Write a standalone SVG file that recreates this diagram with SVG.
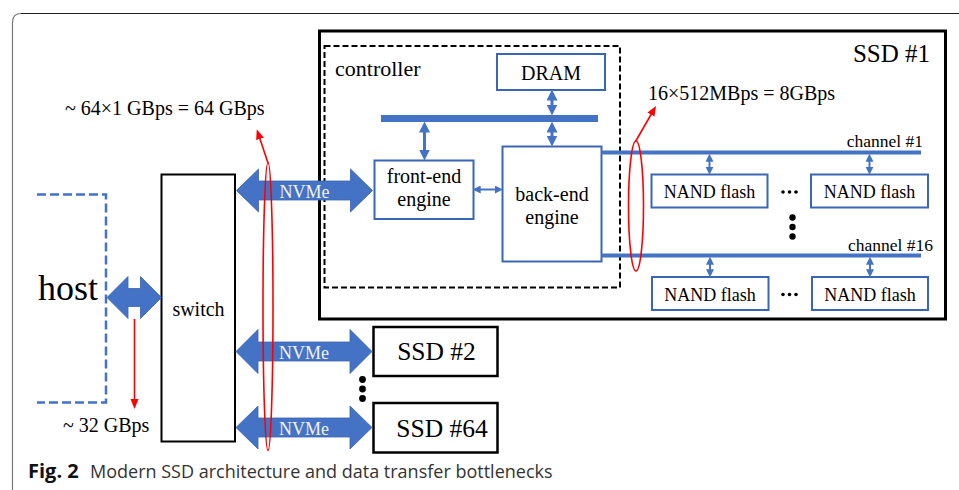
<svg xmlns="http://www.w3.org/2000/svg" width="959" height="490" viewBox="0 0 959 490">
  <style>
    .t { font-family: "Liberation Serif", "Times New Roman", serif; fill: #000; }
    .blue-box { fill: #fff; stroke: #3B66B5; stroke-width: 2; }
    .black-box { fill: #fff; stroke: #000; }
    .fat { fill: #4472C4; stroke: #3A62AE; stroke-width: 0.8; }
    .link { stroke: #4472C4; fill: none; }
    .bus { stroke: #4472C4; stroke-width: 4; fill: none; }
    .red { stroke: #FF0000; stroke-width: 1.6; fill: none; }
    .nvme { font-family: "Liberation Serif", "Times New Roman", serif; font-size: 18px; fill: #F2F2F2; text-anchor: middle; }
    .cap { font-family: "Open Sans", "Noto Sans", sans-serif; font-size: 18px; fill: #333; }
  </style>
  <defs>
    <marker id="headL" markerUnits="userSpaceOnUse" markerWidth="11" markerHeight="11" refX="5" refY="5" orient="auto-start-reverse" viewBox="0 0 10 10">
      <path d="M0,0 L10,5 L0,10 z" fill="#4472C4"/>
    </marker>
    <marker id="headS" markerUnits="userSpaceOnUse" markerWidth="8" markerHeight="8" refX="4" refY="5" orient="auto-start-reverse" viewBox="0 0 10 10">
      <path d="M0,0 L10,5 L0,10 z" fill="#4472C4"/>
    </marker>
    <marker id="headR" markerUnits="userSpaceOnUse" markerWidth="10" markerHeight="10" refX="3" refY="5" orient="auto" viewBox="0 0 10 10">
      <path d="M0,1 L10,5 L0,9 z" fill="#FF0000"/>
    </marker>
  </defs>

  <!-- figure frame -->
  <path d="M12.5,490 L12.5,22 Q12.5,13.5 21,13.5" fill="none" stroke="#777" stroke-width="1.2"/>
  <path d="M21,13.5 L959,13.5" fill="none" stroke="#222" stroke-width="1.2"/>

  <!-- host -->
  <g id="host">
    <path d="M37,194.5 L106,194.5 L106,402.5 L37,402.5" fill="none" stroke="#4472C4" stroke-width="2.5" stroke-dasharray="9 4"/>
    <text class="t" x="38" y="300" font-size="36">host</text>
  </g>

  <!-- switch -->
  <g id="switch">
    <rect class="black-box" x="161.5" y="174.5" width="73.5" height="267" stroke-width="2"/>
    <text class="t" x="198.5" y="316" font-size="20" text-anchor="middle">switch</text>
  </g>

  <!-- SSD #1 -->
  <g id="ssd1">
    <rect class="black-box" x="319.5" y="31" width="626" height="288" stroke-width="3"/>
    <text class="t" x="930" y="62" font-size="25" text-anchor="end">SSD #1</text>
  </g>

  <!-- controller -->
  <g id="controller">
    <rect x="324.5" y="46" width="295.5" height="241.5" fill="none" stroke="#000" stroke-width="2" stroke-dasharray="6 3"/>
    <text class="t" x="335" y="76" font-size="22">controller</text>
    <rect x="381" y="115" width="217" height="7" fill="#4472C4"/>
  </g>

  <g id="dram">
    <rect class="blue-box" x="497" y="54" width="108" height="36"/>
    <text class="t" x="551" y="80" font-size="20" text-anchor="middle">DRAM</text>
  </g>

  <g id="front-end">
    <rect class="blue-box" x="374.5" y="160.5" width="99" height="58.5"/>
    <text class="t" x="424" y="183" font-size="20" text-anchor="middle">front-end</text>
    <text class="t" x="424" y="206" font-size="20" text-anchor="middle">engine</text>
  </g>

  <g id="back-end">
    <rect class="blue-box" x="502.5" y="146.5" width="99" height="115"/>
    <text class="t" x="552" y="201" font-size="20" text-anchor="middle">back-end</text>
    <text class="t" x="552" y="224" font-size="20" text-anchor="middle">engine</text>
  </g>

  <!-- NAND flash arrays -->
  <g id="nand-1-1">
    <rect class="blue-box" x="651.5" y="174.5" width="116" height="33"/>
    <text class="t" x="709.5" y="197.5" font-size="18" text-anchor="middle">NAND flash</text>
  </g>
  <g id="nand-1-n">
    <rect class="blue-box" x="811" y="174.5" width="117" height="33"/>
    <text class="t" x="869.5" y="197.5" font-size="18" text-anchor="middle">NAND flash</text>
  </g>
  <g id="nand-16-1">
    <rect class="blue-box" x="652" y="277" width="116.5" height="33"/>
    <text class="t" x="710" y="300.5" font-size="18" text-anchor="middle">NAND flash</text>
  </g>
  <g id="nand-16-n">
    <rect class="blue-box" x="812" y="277" width="116" height="33"/>
    <text class="t" x="870" y="300.5" font-size="18" text-anchor="middle">NAND flash</text>
  </g>

  <!-- SSD #2 / SSD #64 -->
  <g id="ssd2">
    <rect class="black-box" x="373.5" y="327" width="124" height="49" stroke-width="2.5"/>
    <text class="t" x="436.5" y="360" font-size="25.5" text-anchor="middle">SSD #2</text>
  </g>
  <g id="ssd64">
    <rect class="black-box" x="373.5" y="403" width="124" height="49.5" stroke-width="2.5"/>
    <text class="t" x="442" y="437" font-size="25.5" text-anchor="middle">SSD #64</text>
  </g>

  <!-- connectors -->
  <g id="connectors">
    <!-- wide interface arrows -->
    <path class="fat" d="M107,297.5 L128,276.5 L128,288.5 L140.5,288.5 L140.5,276.5 L161.5,297.5 L140.5,318.5 L140.5,306.5 L128,306.5 L128,318.5 Z"/>
    <path class="fat" d="M236.5,190.5 L258.5,169 L258.5,181 L350.5,181 L350.5,169 L372.5,190.5 L350.5,212 L350.5,200 L258.5,200 L258.5,212 Z"/>
    <path class="fat" d="M236,351.5 L258,329.5 L258,342 L350,342 L350,329.5 L372,351.5 L350,373.5 L350,361 L258,361 L258,373.5 Z"/>
    <path class="fat" d="M236,427.5 L258,406 L258,418 L350,418 L350,406 L372,427.5 L350,449 L350,437 L258,437 L258,449 Z"/>
    <text class="nvme" x="304.5" y="198">NVMe</text>
    <text class="nvme" x="304" y="359">NVMe</text>
    <text class="nvme" x="304" y="435">NVMe</text>

    <!-- internal links -->
    <line class="link" x1="424.5" y1="127" x2="424.5" y2="155" stroke-width="3" marker-start="url(#headL)" marker-end="url(#headL)"/>
    <line class="link" x1="552" y1="95" x2="552" y2="110" stroke-width="3" marker-start="url(#headL)" marker-end="url(#headL)"/>
    <line class="link" x1="552" y1="127" x2="552" y2="141" stroke-width="3" marker-start="url(#headL)" marker-end="url(#headL)"/>
    <line class="link" x1="477.5" y1="189.5" x2="498" y2="189.5" stroke-width="2" marker-start="url(#headS)" marker-end="url(#headS)"/>

    <!-- channels -->
    <line class="bus" x1="601" y1="152.5" x2="921" y2="152.5"/>
    <line class="bus" x1="601" y1="255.5" x2="921" y2="255.5"/>
    <line class="link" x1="709.5" y1="158.5" x2="709.5" y2="170" stroke-width="2" marker-start="url(#headS)" marker-end="url(#headS)"/>
    <line class="link" x1="869.5" y1="158.5" x2="869.5" y2="170" stroke-width="2" marker-start="url(#headS)" marker-end="url(#headS)"/>
    <line class="link" x1="710" y1="261.5" x2="710" y2="272.5" stroke-width="2" marker-start="url(#headS)" marker-end="url(#headS)"/>
    <line class="link" x1="870" y1="261.5" x2="870" y2="272.5" stroke-width="2" marker-start="url(#headS)" marker-end="url(#headS)"/>
  </g>

  <!-- channel labels and ellipsis marks -->
  <text class="t" x="923" y="147" font-size="17.5" text-anchor="end">channel #1</text>
  <text class="t" x="933" y="250.5" font-size="17.5" text-anchor="end">channel #16</text>
  <g fill="#000">
    <circle cx="783" cy="192" r="1.8"/><circle cx="789.5" cy="192" r="1.8"/><circle cx="796" cy="192" r="1.8"/>
    <circle cx="783" cy="294.5" r="1.8"/><circle cx="789.5" cy="294.5" r="1.8"/><circle cx="796" cy="294.5" r="1.8"/>
    <circle cx="792.5" cy="217.5" r="3.2"/><circle cx="792.5" cy="227" r="3.2"/><circle cx="792.5" cy="236.5" r="3.2"/>
    <circle cx="362.5" cy="379.5" r="3.4"/><circle cx="362.5" cy="389" r="3.4"/><circle cx="362.5" cy="398.5" r="3.4"/>
  </g>

  <!-- bandwidth annotations -->
  <text class="t" x="65" y="115" font-size="20">~ 64×1 GBps = 64 GBps</text>
  <text class="t" x="648" y="100" font-size="20">16×512MBps = 8GBps</text>
  <text class="t" x="63" y="432" font-size="20">~ 32 GBps</text>

  <g id="bottlenecks">
    <ellipse class="red" cx="268" cy="306.5" rx="5" ry="144"/>
    <line class="red" x1="268" y1="163" x2="259" y2="136" marker-end="url(#headR)"/>
    <ellipse class="red" cx="636" cy="206" rx="7.5" ry="65"/>
    <line class="red" x1="635.5" y1="141.5" x2="652.5" y2="112" marker-end="url(#headR)"/>
    <line class="red" x1="134.5" y1="319" x2="134.5" y2="402" marker-end="url(#headR)"/>
  </g>

  <!-- caption -->
  <text class="cap" x="28" y="478"><tspan font-weight="bold" fill="#111" font-size="20">Fig. 2</tspan><tspan x="90">Modern SSD architecture and data transfer bottlenecks</tspan></text>
</svg>
